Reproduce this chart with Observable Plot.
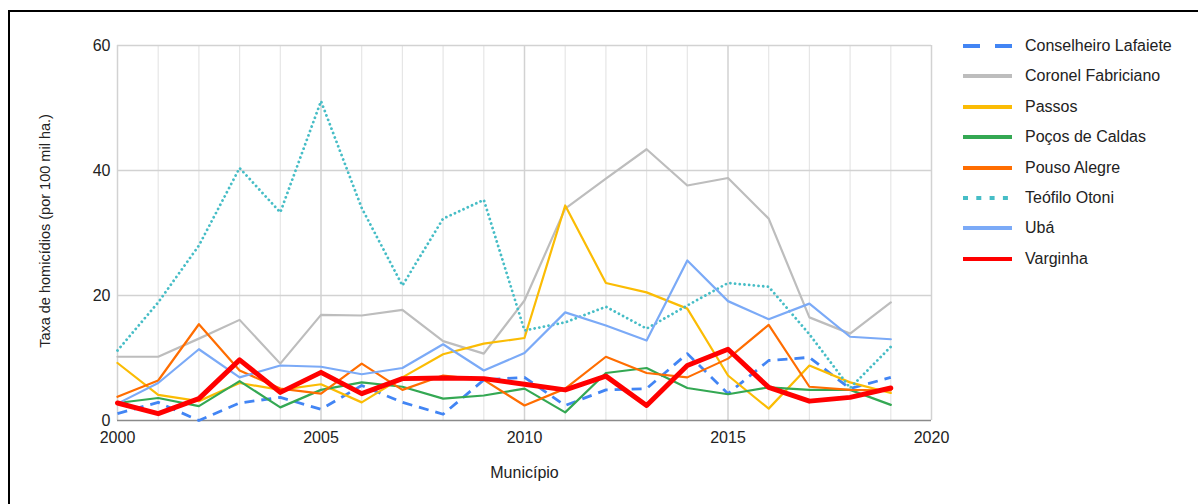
<!DOCTYPE html>
<html lang="pt">
<head>
<meta charset="utf-8">
<script src="https://cdn.jsdelivr.net/npm/d3@7"></script>
<script src="https://cdn.jsdelivr.net/npm/@observablehq/plot@0.6"></script>
<style>
  html, body { margin: 0; padding: 0; background: #fff; }
  #wrap { position: relative; width: 1198px; height: 504px; overflow: hidden;
          font-family: "Liberation Sans", Arial, sans-serif; }
  #chart svg { display: block; }
  #frame { position: absolute; left: 8px; top: 10px; width: 1300px; height: 600px;
           border-top: 2.5px solid #000; border-left: 2.5px solid #000; pointer-events: none; }
  #legend { position: absolute; left: 963px; top: 0; }
  .row { position: absolute; left: 0; height: 20px; white-space: nowrap; }
  .row svg { position: absolute; left: 0; top: 8px; }
  .row span { position: absolute; left: 62px; top: 0; font-size: 16px; line-height: 20px; color: #222; }
</style>
</head>
<body>
<div id="wrap">
  <div id="chart"></div>
  <div id="legend"></div>
  <div id="frame"></div>
</div>
<script>
// Homicide rate per 100 thousand inhabitants, 2000–2019
const years = [2000, 2001, 2002, 2003, 2004, 2005, 2006, 2007, 2008, 2009,
               2010, 2011, 2012, 2013, 2014, 2015, 2016, 2017, 2018, 2019];

const municipios = ["Conselheiro Lafaiete", "Coronel Fabriciano", "Passos", "Poços de Caldas",
                    "Pouso Alegre", "Teófilo Otoni", "Ubá", "Varginha"];

const conselheiroLafaiete = [1.1, 2.9, 0.0, 2.8, 3.7, 1.8, 5.6, 2.9, 1.0, 6.5, 6.9, 2.4, 4.9, 5.1, 10.7, 4.3, 9.6, 10.1, 5.1, 6.9];
const coronelFabriciano   = [10.2, 10.2, 13.1, 16.1, 9.1, 16.9, 16.8, 17.7, 12.7, 10.7, 19.2, 33.9, 38.7, 43.4, 37.6, 38.8, 32.3, 16.5, 13.9, 18.9];
const passos              = [9.2, 4.1, 3.1, 6.0, 4.9, 5.8, 2.9, 6.9, 10.6, 12.3, 13.2, 34.4, 22.0, 20.5, 17.9, 7.2, 1.9, 8.8, 6.1, 4.4];
const pocosDeCaldas       = [2.8, 3.6, 2.3, 6.3, 2.1, 4.9, 6.1, 5.4, 3.5, 4.0, 5.1, 1.3, 7.6, 8.4, 5.2, 4.2, 5.3, 4.9, 4.9, 2.5];
const pousoAlegre         = [3.8, 6.4, 15.4, 8.0, 5.1, 4.3, 9.1, 4.9, 7.2, 6.5, 2.4, 5.1, 10.2, 7.6, 6.9, 9.9, 15.3, 5.4, 4.9, 4.8];
const teofiloOtoni        = [11.2, 18.9, 28.0, 40.4, 33.3, 51.1, 34.0, 21.6, 32.3, 35.3, 14.4, 15.7, 18.2, 14.7, 18.4, 22.0, 21.4, 13.8, 5.2, 11.8];
const uba                 = [2.7, 6.0, 11.4, 6.9, 8.8, 8.6, 7.4, 8.4, 12.2, 8.0, 10.8, 17.3, 15.2, 12.8, 25.6, 19.1, 16.2, 18.7, 13.4, 13.0];
const varginha            = [2.8, 1.1, 3.5, 9.7, 4.5, 7.7, 4.3, 6.7, 6.8, 6.7, 5.8, 4.9, 7.1, 2.4, 8.8, 11.4, 5.3, 3.1, 3.7, 5.2];

const xTicks = [2000, 2005, 2010, 2015, 2020];
const yTicks = [0, 20, 40, 60];
const yTitle = "Taxa de homicídios (por 100 mil ha.)";
const xTitle = "Município";

const seriesValues = [conselheiroLafaiete, coronelFabriciano, passos, pocosDeCaldas,
                      pousoAlegre, teofiloOtoni, uba, varginha];

// Line appearance per municipality
const styles = {
  "Conselheiro Lafaiete": {stroke: "#4285F4", strokeWidth: 2.8, strokeDasharray: "10,7", strokeLinecap: "butt"},
  "Coronel Fabriciano":   {stroke: "#BDBDBD", strokeWidth: 2.2},
  "Passos":               {stroke: "#FBBC04", strokeWidth: 2.2},
  "Poços de Caldas":      {stroke: "#34A853", strokeWidth: 2.2},
  "Pouso Alegre":         {stroke: "#FF6D01", strokeWidth: 2.2},
  "Teófilo Otoni":        {stroke: "#46BDC6", strokeWidth: 2.8, strokeDasharray: "0.01,4.7", strokeLinecap: "round"},
  "Ubá":                  {stroke: "#7BAAF7", strokeWidth: 2.2},
  "Varginha":             {stroke: "#FF0000", strokeWidth: 5}
};

const tidy = municipios.map((name, i) =>
  years.map((year, j) => ({municipio: name, year, value: seriesValues[i][j]})));

const allYears = d3.range(2000, 2021);

const chart = Plot.plot({
  width: 1198,
  height: 504,
  marginLeft: 117,
  marginRight: 267,
  marginTop: 45,
  marginBottom: 84,
  style: {fontFamily: "'Liberation Sans', Arial, sans-serif", fontSize: "16px", color: "#222", background: "#fff"},
  x: {domain: [2000, 2020]},
  y: {domain: [0, 60]},
  marks: [
    // year grid
    Plot.ruleX(allYears.filter(d => d % 5 !== 0), {stroke: "#e6e6e6", strokeWidth: 1.2}),
    Plot.ruleX(allYears.filter(d => d % 5 === 0), {stroke: "#d2d2d2", strokeWidth: 1.5}),
    Plot.ruleY(yTicks.filter(d => d > 0), {stroke: "#d2d2d2", strokeWidth: 1.5}),
    Plot.ruleY([0], {stroke: "#8a8a8a", strokeWidth: 1.5}),
    Plot.axisX({ticks: xTicks, tickSize: 0, tickPadding: 11, tickFormat: d => String(d), label: null, fontSize: 16, fill: "#222"}),
    Plot.axisY({ticks: yTicks, tickSize: 0, tickPadding: 7, label: null, fontSize: 16, fill: "#222"}),
    ...tidy.map((rows, i) => Plot.line(rows, {
      x: "year", y: "value", strokeLinejoin: "round", strokeLinecap: "round",
      ...styles[municipios[i]]
    })),
    Plot.text([yTitle], {frameAnchor: "left", textAnchor: "middle", dx: -72, dy: -2, rotate: -90, fontSize: 14.5, fill: "#222"}),
    Plot.text([xTitle], {frameAnchor: "bottom", dy: 57, fontSize: 16, fill: "#222"})
  ]
});

document.getElementById("chart").appendChild(chart);

// Legend
const legend = document.getElementById("legend");
municipios.forEach((name, i) => {
  const s = styles[name];
  const row = document.createElement("div");
  row.className = "row";
  row.style.top = (36 + i * 30.4) + "px";
  let dash = "";
  if (name === "Conselheiro Lafaiete") dash = "17,15";
  if (name === "Teófilo Otoni") dash = "5,8.3";
  row.innerHTML =
    `<svg width="50" height="6"><line x1="0" x2="49" y1="2" y2="2" stroke="${s.stroke}" stroke-width="4"` +
    (dash ? ` stroke-dasharray="${dash}"` : "") + ` stroke-linecap="butt"/></svg>` +
    `<span>${name}</span>`;
  legend.appendChild(row);
});
</script>
</body>
</html>
